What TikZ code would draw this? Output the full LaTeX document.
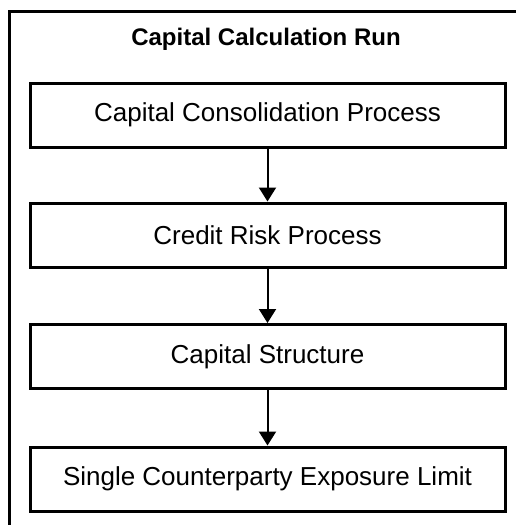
\documentclass[tikz,border=0pt]{standalone}
\usepackage{fontspec}
\setmainfont{Liberation Sans}
\usetikzlibrary{arrows.meta}

\begin{document}
\begin{tikzpicture}[
  x=0.5pt,
  y=-0.5pt,
  font=\fontsize{13}{15}\selectfont,
  frame/.style={draw=black, line width=1.5pt},
  stage/.style={
    rectangle,
    draw=black,
    line width=1.5pt,
    minimum width=237.5pt,
    minimum height=32pt,
    inner sep=0pt
  },
  heading/.style={font=\fontsize{12}{14}\selectfont\bfseries},
  flow/.style={draw=black, line width=1pt, -{Triangle[length=7pt, width=8.5pt]}}
]

\useasboundingbox (0,0) rectangle (515,525);

% outer frame runs off the right and bottom edges
\path[frame] (9,11) rectangle (530,540);
\node[heading] (run) at (266,39) {Capital Calculation Run};

\node[stage] (consol) at (267.5,115) {Capital Consolidation Process};
\node[stage] (credit) at (267.5,235) {Credit Risk Process};
\node[stage] (structure) at (267.5,356.5) {Capital Structure};
\node[stage] (exposure) at (267.5,479) {Single Counterparty Exposure Limit};

\draw[flow] (consol) -- (credit);
\draw[flow] (credit) -- (structure);
\draw[flow] (structure) -- (exposure);

\end{tikzpicture}
\end{document}
